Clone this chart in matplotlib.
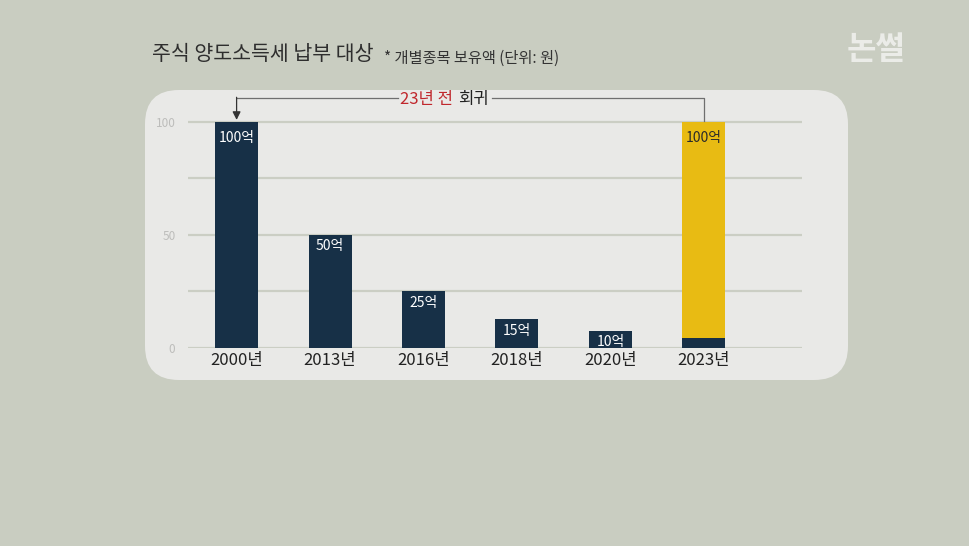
import matplotlib.pyplot as plt
from matplotlib.patches import FancyBboxPatch

plt.rcParams['font.family'] = ['Noto Sans CJK KR', 'DejaVu Sans']

# data
years = ['2000년', '2013년', '2016년', '2018년', '2020년', '2023년']
labels = ['100억', '50억', '25억', '15억', '10억', '100억']
heights = [100, 50, 25, 12.7, 7.5, 100]      # bar heights as drawn
base_2023 = 4.5                                # navy stub under the yellow bar
grid_vals = [0, 25, 50, 75, 100]
tick_vals = [0, 50, 100]

bg = '#c9cdc1'
panel = '#e9e9e7'
navy = '#173047'
yellow = '#e8bb13'

fig = plt.figure(figsize=(9.7, 5.46), dpi=100)
fig.patch.set_facecolor(bg)

# pixel-space layer for the panel and titles
bax = fig.add_axes([0, 0, 1, 1], zorder=0)
bax.set_xlim(0, 970)
bax.set_ylim(546, 0)
bax.axis('off')
bax.add_patch(FancyBboxPatch((145, 90), 703, 290,
                             boxstyle='round,pad=0,rounding_size=34',
                             fc=panel, ec='none'))
bax.text(152, 54, '주식 양도소득세 납부 대상', fontsize=14.8, color='#2e2e2e',
         va='center', ha='left')
bax.text(384, 58, '* 개별종목 보유액 (단위: 원)', fontsize=11, color='#333333',
         va='center', ha='left')
bax.text(876, 50, '논썰', fontsize=23, color='#f2f2f0', alpha=0.85,
         fontweight='bold', va='center', ha='center')

# chart
ax = fig.add_axes([188 / 970, 198 / 546, 614 / 970, 237.6 / 546], zorder=1)
ax.set_facecolor('none')
x = list(range(len(years)))
for v in grid_vals:
    ax.axhline(v, color='#cbcec4', lw=1.6, zorder=1)

colors = [navy] * 5 + [yellow]
ax.bar(x, heights, width=0.46, color=colors, zorder=2)
ax.bar([x[-1]], [base_2023], width=0.46, color=navy, zorder=3)

for i, (h, lab) in enumerate(zip(heights, labels)):
    c = '#2a2a2a' if i == len(x) - 1 else 'white'
    off = 7 if h >= 100 else 5
    ax.text(i, h - off, lab, ha='center', va='center', fontsize=10, color=c, zorder=4)

ax.set_xlim(-0.52, 6.05)
ax.set_ylim(0, 105)
ax.set_xticks(x)
ax.set_xticklabels(years, fontsize=12, color='#222222')
ax.set_yticks(tick_vals)
ax.set_yticklabels([str(t) for t in tick_vals], fontsize=8.5, color='#bdbdbb')
ax.tick_params(length=0, pad=3)
ax.tick_params(axis='y', pad=9)
for s in ax.spines.values():
    s.set_visible(False)

# "23년 전 회귀" bracket
ly = 110.5
lc = '#6f6f6f'
ax.plot([0, 1.73], [ly, ly], color=lc, lw=0.9, clip_on=False)
ax.plot([2.73, 5, 5], [ly, ly, 100.5], color=lc, lw=0.9, clip_on=False)
ax.annotate('', xy=(0, 100.8), xytext=(0, ly + 0.3),
            arrowprops=dict(arrowstyle='-|>', color='#333333', lw=0.9,
                            mutation_scale=12, shrinkA=0, shrinkB=0),
            annotation_clip=False)
ax.text(2.32, ly - 0.8, '23년 전', color='#c0272d', fontsize=12, ha='right',
        va='center', clip_on=False)
ax.text(2.37, ly - 0.8, '회귀', color='#222222', fontsize=12, ha='left',
        va='center', clip_on=False)

fig.savefig('out.png', dpi=100, facecolor=bg)
